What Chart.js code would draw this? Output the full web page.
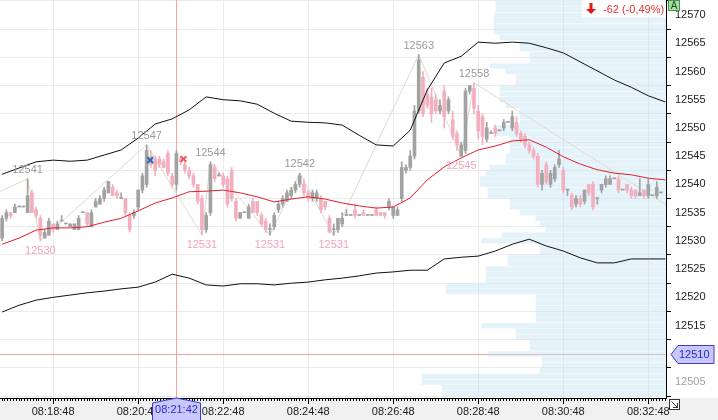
<!DOCTYPE html>
<html>
<head>
<meta charset="utf-8">
<script src="https://cdn.jsdelivr.net/npm/chart.js@4.4.0/dist/chart.umd.min.js"></script>
<style>
  html, body { margin: 0; padding: 0; background: #fff; }
  #wrap { width: 718px; height: 420px; }
</style>
</head>
<body>
<div id="wrap"><canvas id="chart"></canvas></div>
<script>
// candles, 6 seconds each
var candleStart = '08:17:36';
var candleStep = 6;

var opens = [
  12530.5, 12534, 12535, 12535, 12536, 12536, 12535, 12538.5, 12535.5, 12534,
  12530.5, 12531, 12533, 12532, 12533.5, 12533, 12532.5, 12532, 12532, 12535,
  12535, 12532.5, 12536, 12536.5, 12537.5, 12538.5, 12539.5, 12538.5, 12537.5, 12537.5,
  12534.5, 12534.5, 12536, 12539, 12540, 12545, 12544.5, 12544.5, 12544, 12545.5,
  12541.5, 12540, 12544.5, 12543.5, 12542.5, 12541.5, 12540, 12537.5, 12532, 12535,
  12543, 12541.5, 12541.5, 12541, 12542.5, 12537, 12534, 12535, 12534, 12537,
  12537, 12534.5, 12533.5, 12532, 12532.5, 12535.5, 12536.5, 12537, 12538, 12539,
  12540, 12540, 12538.5, 12537.5, 12537.5, 12537.5, 12537, 12534, 12532, 12532,
  12533, 12534.5, 12534.5, 12535.5, 12534.5, 12535, 12534.5, 12534.5, 12535.5, 12535,
  12535, 12536, 12534.5, 12534.5, 12537.5, 12542.5, 12543, 12545, 12553, 12559,
  12556, 12555.5, 12555, 12553, 12556.5, 12553, 12551.5, 12549, 12545, 12546,
  12556.5, 12557, 12553, 12552, 12548, 12549, 12550, 12549.5, 12550, 12551,
  12550, 12551, 12549, 12548.5, 12547, 12546, 12545, 12540, 12543.5, 12540,
  12541, 12543.5, 12542.5, 12539, 12538, 12536.5, 12537.5, 12537, 12540, 12540,
  12537.5, 12539, 12540, 12540, 12541, 12541, 12539, 12540, 12539, 12539,
  12538, 12539, 12538, 12538, 12538, 12538.5
];
var highs = [
  12534.5, 12535.5, 12535, 12536.5, 12536, 12536, 12541, 12539, 12536, 12534.5,
  12532, 12534, 12533, 12533.5, 12534.5, 12533, 12533, 12533, 12534.5, 12535,
  12535, 12535.5, 12537.5, 12538, 12539.5, 12540.5, 12540, 12539, 12538.5, 12537.5,
  12535, 12535.5, 12539, 12542, 12547, 12546, 12545, 12545, 12544.5, 12546,
  12542, 12546, 12545, 12544, 12543, 12542, 12540, 12538, 12535, 12544,
  12543.5, 12542, 12542, 12541.5, 12543, 12537.5, 12535, 12535, 12536.5, 12537.5,
  12537, 12535, 12534, 12533, 12535, 12537, 12538, 12539, 12539.5, 12540.5,
  12542, 12541, 12539, 12539, 12539, 12538, 12537, 12534.5, 12533, 12534,
  12535, 12535.5, 12534.5, 12536.5, 12534.5, 12535.5, 12534.5, 12534.5, 12536, 12535,
  12535, 12537.5, 12536, 12536, 12544, 12543.5, 12546, 12554, 12563, 12560,
  12557, 12557, 12556, 12555, 12557.5, 12555.5, 12553, 12549.5, 12547.5, 12557,
  12557.5, 12558, 12554, 12552.5, 12551, 12549.5, 12550.5, 12549.5, 12551.5, 12551,
  12553, 12552, 12549.5, 12549, 12547.5, 12546.5, 12545.5, 12542.5, 12544, 12542.5,
  12543.5, 12546, 12543, 12539, 12538.5, 12538, 12538, 12539, 12540, 12540.5,
  12537.5, 12540, 12541.5, 12541.5, 12541, 12541.5, 12539, 12540, 12539.5, 12539,
  12541, 12539, 12541, 12538, 12540.5, 12538.5
];
var lows = [
  12530, 12533.5, 12534, 12535, 12536, 12536, 12535, 12535, 12534, 12530,
  12530.5, 12531, 12531.5, 12532, 12533.5, 12533, 12532.5, 12532, 12532, 12535,
  12532.5, 12532.5, 12536, 12536.5, 12537, 12538.5, 12538, 12537.5, 12537.5, 12534.5,
  12531.5, 12534, 12535.5, 12538.5, 12539.5, 12543, 12541.5, 12543, 12543, 12541.5,
  12539.5, 12539, 12543.5, 12542, 12541, 12539.5, 12536.5, 12531, 12531.5, 12534.5,
  12540.5, 12541.5, 12539.5, 12536, 12537, 12533.5, 12534, 12535, 12534, 12535,
  12534.5, 12532.5, 12531.5, 12531, 12532, 12535, 12536, 12537, 12537.5, 12538.5,
  12539.5, 12538, 12537, 12537, 12537, 12535, 12535.5, 12531.5, 12531, 12531.5,
  12532.5, 12534.5, 12534.5, 12534, 12534.5, 12534.5, 12534.5, 12534.5, 12534.5, 12534.5,
  12534, 12535.5, 12534, 12534.5, 12537, 12542, 12542.5, 12544.5, 12552.5, 12552,
  12553.5, 12551, 12552.5, 12552.5, 12550, 12552.5, 12548, 12546, 12545, 12545.5,
  12556, 12552.5, 12548, 12547, 12547.5, 12549, 12548.5, 12549.5, 12549.5, 12551,
  12549.5, 12548.5, 12547.5, 12546.5, 12545.5, 12544.5, 12539.5, 12539, 12540, 12539.5,
  12540.5, 12543, 12538.5, 12538, 12535.5, 12536, 12536, 12536.5, 12538, 12535.5,
  12536.5, 12538.5, 12539.5, 12540, 12541, 12538.5, 12539, 12538.5, 12537.5, 12537.5,
  12538, 12537.5, 12537.5, 12538, 12537.5, 12538.5
];
var closes = [
  12534, 12535, 12534.5, 12536, 12536, 12536, 12538, 12535, 12534.5, 12531,
  12531.5, 12533.5, 12532, 12533, 12533.5, 12533, 12533, 12533, 12534, 12535,
  12533, 12535, 12537, 12537.5, 12539, 12540.5, 12538, 12538, 12537.5, 12535,
  12532, 12535, 12539, 12541.5, 12546, 12543.5, 12542.5, 12543.5, 12543, 12542,
  12540, 12545.5, 12544, 12542.5, 12541.5, 12540, 12537, 12532, 12534.5, 12543.5,
  12541, 12541.5, 12540, 12536.5, 12537.5, 12534, 12535, 12535, 12536, 12535,
  12535, 12533, 12532, 12532, 12534.5, 12536.5, 12537.5, 12538.5, 12539, 12540,
  12541.5, 12538.5, 12537.5, 12538.5, 12538.5, 12535.5, 12536, 12531.5, 12532, 12534,
  12534, 12534.5, 12534.5, 12534.5, 12534.5, 12534.5, 12534.5, 12534.5, 12534.5, 12534.5,
  12534.5, 12537, 12536, 12535.5, 12543, 12543, 12545, 12553, 12562, 12552.5,
  12554, 12552.5, 12553, 12554, 12552, 12555, 12548.5, 12547, 12547, 12556.5,
  12557.5, 12553.5, 12549.5, 12548.5, 12550, 12549, 12549, 12549.5, 12551, 12551,
  12552, 12549, 12548, 12547, 12546, 12545, 12540, 12542, 12540.5, 12542,
  12543, 12544.5, 12539, 12539, 12536, 12537.5, 12536.5, 12539, 12538.5, 12536,
  12537.5, 12540, 12541, 12541, 12541, 12539, 12539, 12539, 12538, 12538,
  12538.5, 12538, 12540, 12538, 12539.5, 12538.5
];

// bollinger bands, one point every 4 candles (24 s)
var bandStep = 24;
var upperBand = [
  12541.8, 12542.9, 12544.0, 12544.3, 12544.1, 12544.3, 12545.2, 12546.1, 12548.2, 12550.7,
  12551.6, 12553.2, 12555.5, 12555.0, 12554.8, 12554.2, 12552.6, 12551.2, 12551.0, 12550.9,
  12550.5, 12548.7, 12547.0, 12546.8, 12549.6, 12556.7, 12561.5, 12562.7, 12565.2, 12565.0,
  12565.2, 12565.0, 12564.2, 12563.3, 12561.7, 12560.1, 12558.5, 12557.2, 12555.7, 12554.6
];
var middleBand = [
  12529.4, 12530.5, 12531.9, 12532.3, 12532.3, 12532.5, 12533.3, 12534.0, 12535.3, 12536.7,
  12537.6, 12538.7, 12538.8, 12539.0, 12538.5, 12537.8, 12536.9, 12537.4, 12537.8, 12537.4,
  12536.7, 12536.2, 12535.8, 12536.0, 12537.6, 12540.8, 12543.1, 12544.7, 12546.1, 12546.8,
  12547.7, 12547.9, 12546.6, 12544.9, 12543.6, 12542.6, 12542.0, 12541.7, 12541.1, 12540.8
];
var lowerBand = [
  12517.4, 12518.6, 12519.5, 12520.0, 12520.4, 12520.8, 12521.1, 12521.5, 12521.8, 12522.7,
  12524.1, 12523.4, 12522.2, 12522.0, 12522.4, 12522.4, 12522.2, 12522.5, 12522.7, 12523.1,
  12523.4, 12523.8, 12524.3, 12524.5, 12524.8, 12524.8, 12526.8, 12527.1, 12527.3, 12528.2,
  12529.4, 12530.3, 12529.1, 12528.2, 12527.0, 12526.1, 12526.1, 12526.8, 12526.8, 12526.8
];

// zigzag swing points
var zigzagTimes = ['08:17:12', '08:18:12', '08:18:30', '08:21:00', '08:22:18', '08:22:30',
  '08:23:54', '08:24:36', '08:25:24', '08:27:24', '08:28:24', '08:28:42', '08:33:18'];
var zigzagPrices = [12537.5, 12541, 12530, 12547, 12531, 12544,
  12531, 12542, 12531, 12563, 12545, 12558, 12536];

// volume profile, one row per point from 12503 up
var profileFrom = 12503;
var profileVolumes = [
  112, 112, 122, 122, 63, 62, 62, 89, 68, 68,
  75, 75, 92, 65, 65, 65, 65, 65, 110, 110,
  90, 90, 90, 79, 79, 63, 63, 92, 82, 60,
  63, 65, 73, 78, 78, 89, 89, 93, 93, 90,
  88, 80, 80, 78, 78, 78, 86, 86, 73, 73,
  73, 80, 83, 83, 83, 75, 75, 80, 88, 68,
  68, 73, 73, 83, 86, 86, 86, 86, 85, 85
];

// trades
var tradeTimes = ['08:21:05', '08:21:52'];
var tradePrices = [12544.3, 12544.5];
var tradeColors = ['#1f6fb4', '#ec5a5a'];

var xTickLabels = ['08:18:48', '08:20:48', '08:22:48', '08:24:48', '08:26:48', '08:28:48', '08:30:48', '08:32:48'];
var xRange = ['08:17:33', '08:33:13'];
var yRange = [12502.17, 12572.66];

var crossTime = '08:21:42';
var crossPrice = 12510;
var changeText = '-62 (-0,49%)';

function toSec(s) {
    var p = s.split(':').map(Number);
    return p[0] * 3600 + p[1] * 60 + p[2];
}
function fmt(v) {
    var h = Math.floor(v / 3600), m = Math.floor((v % 3600) / 60), s = Math.round(v % 60);
    return [h, m, s].map(function (n) { return String(n).padStart(2, '0'); }).join(':');
}

var t0 = toSec(candleStart);
var candleTimes = opens.map(function (o, i) { return t0 + i * candleStep; });
var candleColors = opens.map(function (o, i) { return closes[i] >= o ? '#a2a2a2' : '#f4afbe'; });

function band(arr) {
    return arr.map(function (v, k) { return { x: t0 + k * bandStep, y: v }; });
}

var FONT = '"Liberation Sans", Arial, sans-serif';
Chart.defaults.font.family = FONT;
Chart.defaults.font.size = 11;

function noPadding(s) {
    s.paddingTop = 0;
    s.paddingBottom = 0;
    s.paddingLeft = 0;
    s.paddingRight = 0;
}

var paintPlugin = {
    id: 'paint',
    beforeDraw: function (chart) {
        var c = chart.ctx;
        c.save();
        c.fillStyle = '#ffffff';
        c.fillRect(0, 0, chart.width, chart.height);
        c.fillStyle = '#f0f0f0';
        c.fillRect(0, chart.chartArea.bottom, chart.width, chart.height - chart.chartArea.bottom);
        c.restore();
    },
    beforeDatasetsDraw: function (chart) {
        var c = chart.ctx, a = chart.chartArea;
        var px = chart.scales.x.getPixelForValue(toSec(crossTime));
        var py = chart.scales.y.getPixelForValue(crossPrice);
        c.save();
        c.strokeStyle = '#f5a3a3';
        c.lineWidth = 1;
        c.beginPath();
        c.moveTo(Math.round(px) + 0.5, a.top);
        c.lineTo(Math.round(px) + 0.5, a.bottom);
        c.moveTo(a.left, Math.round(py) + 0.5);
        c.lineTo(a.right, Math.round(py) + 0.5);
        c.stroke();
        c.restore();
    },
    afterDraw: function (chart) {
        var c = chart.ctx, a = chart.chartArea;
        c.save();
        c.font = '11px ' + FONT;

        // zigzag labels
        var meta = chart.getDatasetMeta(1);
        c.textAlign = 'center';
        c.textBaseline = 'middle';
        for (var j = 1; j < zigzagPrices.length - 1; j++) {
            var pt = meta.data[j];
            var isHigh = zigzagPrices[j] > zigzagPrices[j - 1];
            c.fillStyle = isHigh ? '#9a9a9a' : '#f2a4b6';
            c.fillText(String(zigzagPrices[j]), pt.x, isHigh ? pt.y - 9 : pt.y + 10);
        }

        // change readout top right
        c.fillStyle = '#ffffff';
        c.fillRect(582, 0, a.right - 582, 17);
        c.fillStyle = '#e01818';
        c.fillRect(589.5, 3, 3, 6);
        c.beginPath();
        c.moveTo(586, 9); c.lineTo(596, 9); c.lineTo(591, 14); c.closePath();
        c.fill();
        c.fillStyle = '#e63232';
        c.textAlign = 'left';
        c.fillText(changeText, 603, 10);

        // "A" badge
        c.fillStyle = '#a6dca6';
        c.fillRect(a.right + 2, 0, 12, 11);
        c.strokeStyle = '#4e904e';
        c.strokeRect(a.right + 2.5, 0.5, 11, 10);
        c.fillStyle = '#1e4f1e';
        c.textAlign = 'center';
        c.font = '10px ' + FONT;
        c.fillText('A', a.right + 8, 6);
        c.font = '11px ' + FONT;

        // price label of the crosshair
        var py = Math.round(chart.scales.y.getPixelForValue(crossPrice)) + 0.5;
        c.beginPath();
        c.moveTo(a.right + 5, py);
        c.lineTo(a.right + 12, py - 9);
        c.lineTo(a.right + 48, py - 9);
        c.lineTo(a.right + 48, py + 9);
        c.lineTo(a.right + 12, py + 9);
        c.closePath();
        c.fillStyle = '#c8c8ff';
        c.fill();
        c.strokeStyle = '#3c3cd4';
        c.stroke();
        c.fillStyle = '#2b2bd0';
        c.textAlign = 'left';
        c.fillText(String(crossPrice), a.right + 13, py + 0.5);

        // time label of the crosshair
        var px = Math.round(chart.scales.x.getPixelForValue(toSec(crossTime))) + 0.5;
        var by = a.bottom;
        c.beginPath();
        c.moveTo(px, by);
        c.lineTo(px + 24, by + 5);
        c.lineTo(px + 24, chart.height + 2);
        c.lineTo(px - 24, chart.height + 2);
        c.lineTo(px - 24, by + 5);
        c.closePath();
        c.fillStyle = '#c8c8ff';
        c.fill();
        c.strokeStyle = '#3c3cd4';
        c.stroke();
        c.fillStyle = '#2b2bd0';
        c.textAlign = 'center';
        c.fillText(crossTime, px, by + 12);

        // corner icon
        c.strokeStyle = '#333333';
        c.fillStyle = '#ffffff';
        c.fillRect(a.right + 3.5, by + 1.5, 10, 10);
        c.strokeRect(a.right + 3.5, by + 1.5, 10, 10);
        c.beginPath();
        c.moveTo(a.right + 5.5, by + 3.5);
        c.lineTo(a.right + 11.5, by + 9.5);
        c.moveTo(a.right + 11.5, by + 5);
        c.lineTo(a.right + 11.5, by + 9.5);
        c.lineTo(a.right + 7, by + 9.5);
        c.stroke();
        c.restore();
    }
};

new Chart(document.getElementById('chart').getContext('2d'), {
    type: 'bar',
    data: {
        datasets: [
            {
                type: 'bar',
                indexAxis: 'y',
                xAxisID: 'xv',
                yAxisID: 'y',
                data: profileVolumes.map(function (v, i) { return { x: v, y: profileFrom + i }; }),
                backgroundColor: 'rgba(190, 225, 240, 0.42)',
                barThickness: 4.6,
                grouped: false,
                order: 10
            },
            {
                type: 'line',
                data: zigzagTimes.map(function (t, i) { return { x: toSec(t), y: zigzagPrices[i] }; }),
                borderColor: '#e0d9cc',
                borderWidth: 1,
                pointRadius: 0,
                tension: 0,
                order: 6
            },
            {
                type: 'bar',
                data: candleTimes.map(function (t, i) { return { x: t, y: [lows[i], highs[i]] }; }),
                backgroundColor: candleColors,
                barThickness: 1,
                grouped: false,
                order: 5
            },
            {
                type: 'bar',
                data: candleTimes.map(function (t, i) { return { x: t, y: [opens[i], closes[i]] }; }),
                backgroundColor: candleColors,
                barThickness: 3,
                minBarLength: 1,
                grouped: false,
                order: 4
            },
            {
                type: 'line',
                data: band(upperBand),
                borderColor: '#111111',
                borderWidth: 1,
                pointRadius: 0,
                tension: 0,
                order: 2
            },
            {
                type: 'line',
                data: band(middleBand),
                borderColor: '#e0202e',
                borderWidth: 1,
                pointRadius: 0,
                tension: 0,
                order: 2
            },
            {
                type: 'line',
                data: band(lowerBand),
                borderColor: '#111111',
                borderWidth: 1,
                pointRadius: 0,
                tension: 0,
                order: 2
            },
            {
                type: 'line',
                data: tradeTimes.map(function (t, i) { return { x: toSec(t), y: tradePrices[i] }; }),
                showLine: false,
                pointStyle: 'crossRot',
                pointRadius: 4,
                pointBorderWidth: 2,
                pointBorderColor: tradeColors,
                pointBackgroundColor: tradeColors,
                order: 0
            }
        ]
    },
    options: {
        responsive: true,
        maintainAspectRatio: false,
        animation: false,
        events: [],
        layout: { padding: 0, autoPadding: false },
        plugins: {
            legend: { display: false },
            tooltip: { enabled: false }
        },
        scales: {
            xm: {
                type: 'linear',
                axis: 'x',
                position: 'bottom',
                weight: 0,
                min: toSec(xRange[0]),
                max: toSec(xRange[1]),
                offset: false,
                afterBuildTicks: function (s) {
                    var ticks = [];
                    for (var v = toSec(xTickLabels[0]) - 80; v <= s.max; v += 4) {
                        if (v >= s.min) ticks.push({ value: v });
                    }
                    s.ticks = ticks;
                },
                afterFit: function (s) { s.height = 0; noPadding(s); },
                ticks: { display: false },
                grid: { offset: false, drawOnChartArea: false, tickLength: 3, tickColor: '#000000', tickWidth: 1 },
                border: { display: false }
            },
            x: {
                type: 'linear',
                position: 'bottom',
                weight: 1,
                min: toSec(xRange[0]),
                max: toSec(xRange[1]),
                offset: false,
                afterBuildTicks: function (s) {
                    s.ticks = xTickLabels.map(function (l) { return { value: toSec(l) }; });
                },
                afterFit: function (s) { s.height = 22; noPadding(s); },
                ticks: {
                    callback: function (v) { return fmt(v); },
                    color: '#222222',
                    font: { size: 11, family: FONT },
                    padding: 1,
                    maxRotation: 0,
                    autoSkip: false
                },
                grid: { offset: false, color: '#ebebeb', tickColor: '#000000', tickLength: 6 },
                border: { color: '#000000' }
            },
            xv: {
                type: 'linear',
                axis: 'x',
                display: false,
                reverse: true,
                min: 0,
                max: 333,
                offset: false
            },
            y: {
                type: 'linear',
                position: 'right',
                min: yRange[0],
                max: yRange[1],
                offset: false,
                afterFit: function (s) { s.width = 52; noPadding(s); },
                ticks: {
                    stepSize: 5,
                    includeBounds: false,
                    padding: 4,
                    font: { size: 11, family: FONT },
                    color: function (ctx) { return ctx.tick && ctx.tick.value === 12505 ? '#a0a0a0' : '#222222'; },
                    callback: function (v) { return String(v); }
                },
                grid: { color: '#ebebeb', tickColor: '#000000', tickLength: 5 },
                border: { color: '#000000' }
            }
        }
    },
    plugins: [paintPlugin]
});
</script>
</body>
</html>
